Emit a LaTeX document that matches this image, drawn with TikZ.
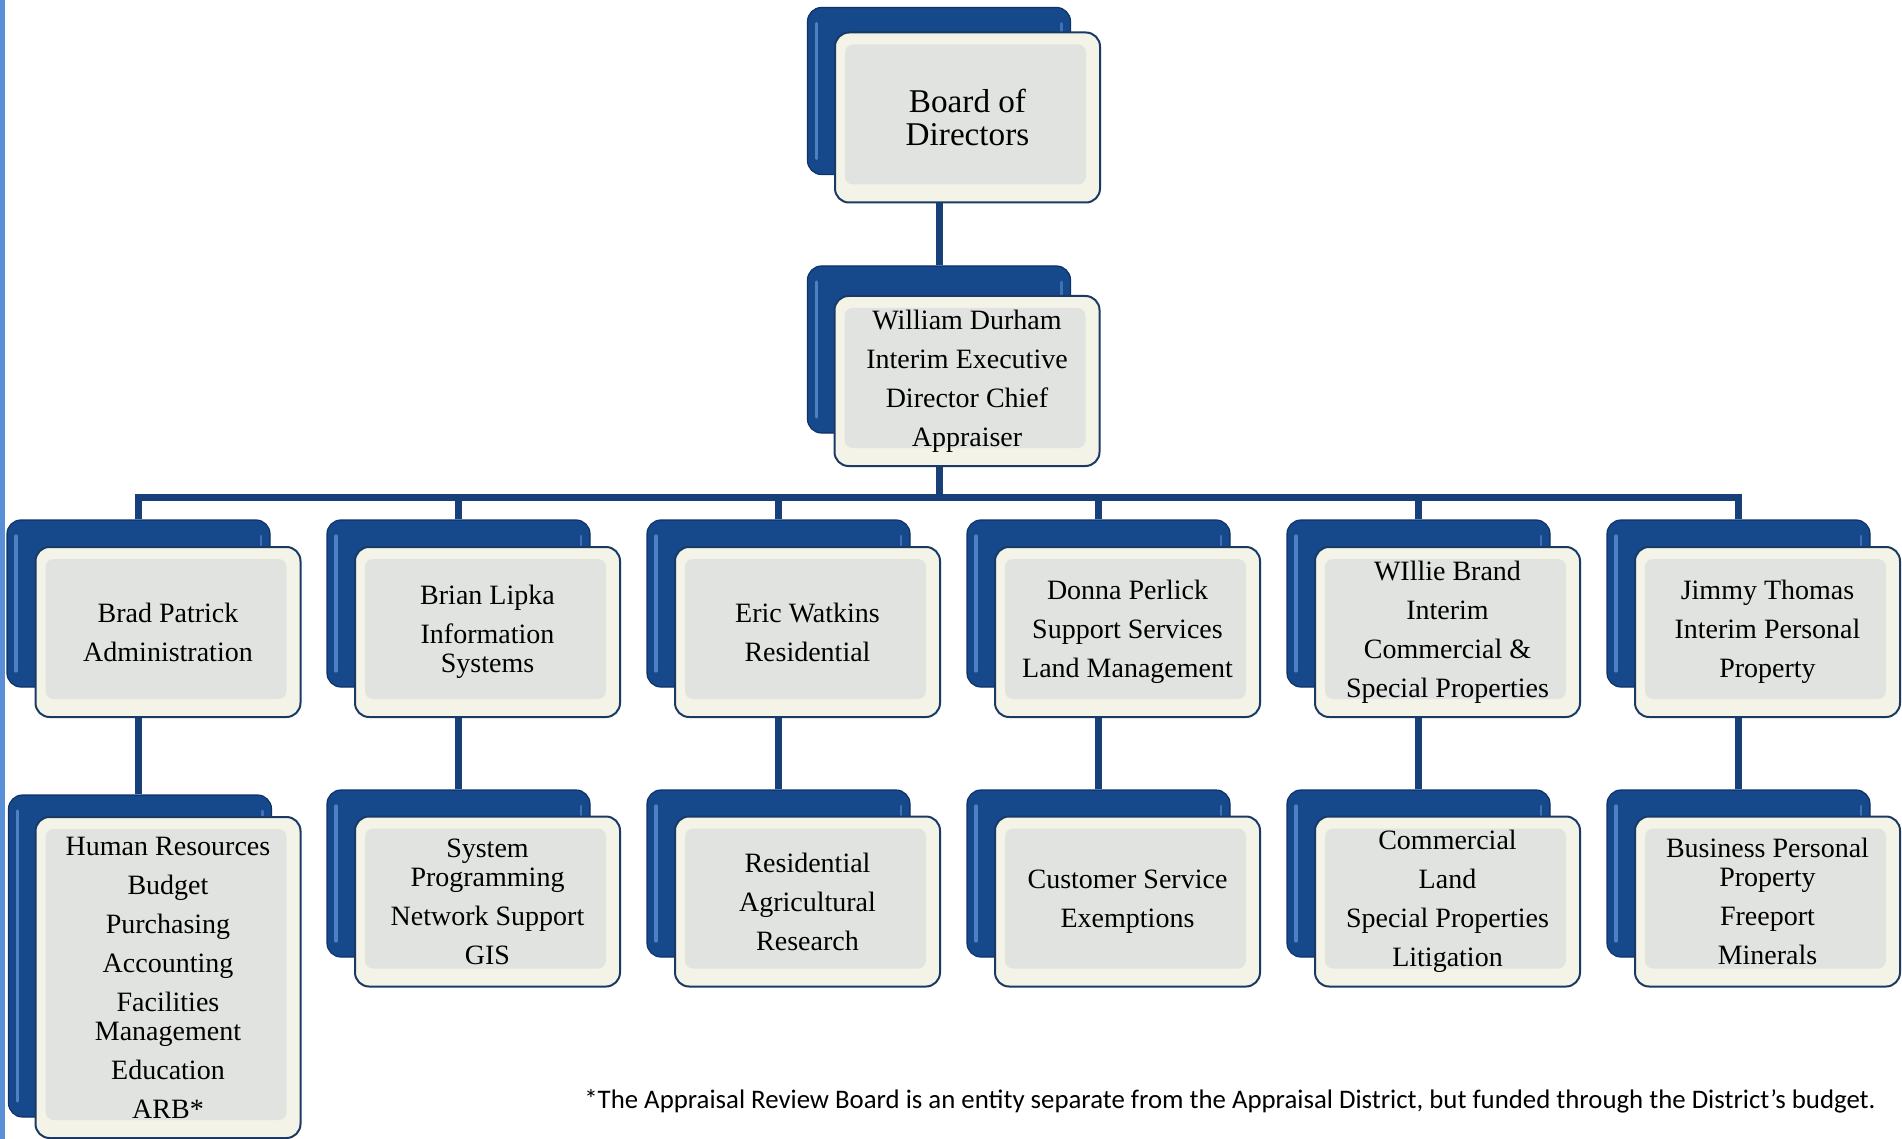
\documentclass[tikz,border=0pt]{standalone}
\usepackage{fontspec}
\setmainfont{Liberation Serif}
\newfontfamily\notefont{Carlito}
\usetikzlibrary{backgrounds}

\definecolor{boxblue}{RGB}{22,72,140}
\definecolor{boxedge}{RGB}{14,50,104}
\definecolor{boxhi}{RGB}{96,146,214}
\definecolor{boxcream}{RGB}{244,243,232}
\definecolor{boxgrey}{RGB}{225,227,224}
\definecolor{boxline}{RGB}{27,58,99}
\definecolor{linkblue}{RGB}{24,64,120}
\definecolor{edgeblue}{RGB}{88,143,214}

\tikzset{
  back/.style={rounded corners=7pt, fill=boxblue, draw=boxedge, line width=0.6pt,
    minimum width=131.5pt, minimum height=83.5pt, inner sep=0pt,
    path picture={
      \draw[boxhi!75!boxblue, line width=1.6pt, line cap=round]
        ([shift={(4.5pt,-8pt)}]path picture bounding box.north west) -- ([shift={(4.5pt,8pt)}]path picture bounding box.south west);
      \draw[boxhi!55!boxblue, line width=1.4pt, line cap=round]
        ([shift={(-4.5pt,-8pt)}]path picture bounding box.north east) -- ([shift={(-4.5pt,8pt)}]path picture bounding box.south east);
    }},
  front/.style={rounded corners=7pt, fill=boxcream, draw=boxline, line width=1pt,
    minimum width=132.5pt, minimum height=85pt, inner sep=2pt, align=center,
    font=\fontsize{14}{14.5}\selectfont,
    path picture={
      \fill[boxgrey, rounded corners=4pt]
        ([shift={(5pt,9pt)}]path picture bounding box.south west) rectangle ([shift={(-7pt,-6pt)}]path picture bounding box.north east);
    }},
  link/.style={linkblue, line width=3.5pt},
}

\begin{document}
\begin{tikzpicture}[x=0.5pt, y=-0.5pt]
    \useasboundingbox (0,0) rectangle (1902,1139);
    % blue strip on the left edge
    \fill[edgeblue] (0,0) rectangle (5,1139);

    % Board and director
    \node[back] (bod-b) at (939,91) {};
    \node[front, font=\fontsize{16.6}{16.5}\selectfont] (bod) at (967.5,117.5) {Board of\\Directors};
    \node[back] (exec-b) at (939,349.5) {};
    \node[front] (exec) at (967,381) {William Durham\\[5pt]Interim Executive\\[5pt]Director Chief\\[5pt]Appraiser};

    % Row 1
    \node[back] (adm-b) at (138.5,603.5) {};
    \node[front] (adm) at (168,632) {Brad Patrick\\[5pt]Administration};
    \node[back] (info-b) at (458.5,603.5) {};
    \node[front] (info) at (487.5,632) {Brian Lipka\\[5pt]Information\\Systems};
    \node[back] (res-b) at (778.5,603.5) {};
    \node[front] (res) at (807.5,632) {Eric Watkins\\[5pt]Residential};
    \node[back] (land-b) at (1098.5,603.5) {};
    \node[front] (land) at (1127.5,632) {Donna Perlick\\[5pt]Support Services\\[5pt]Land Management};
    \node[back] (com-b) at (1418.5,603.5) {};
    \node[front] (com) at (1447.5,632) {WIllie Brand\\[5pt]Interim\\[5pt]Commercial \&\\[5pt]Special Properties};
    \node[back] (pers-b) at (1738.5,603.5) {};
    \node[front] (pers) at (1767.5,632) {Jimmy Thomas\\[5pt]Interim Personal\\[5pt]Property};

    % Row 2
    \node[back, minimum height=161pt] (hr-b) at (140,956) {};
    \node[front, minimum height=160.5pt] (hr) at (168,977.5) {Human Resources\\[5pt]Budget\\[5pt]Purchasing\\[5pt]Accounting\\[5pt]Facilities\\Management\\[5pt]Education\\[5pt]ARB*};
    \node[back] (sys-b) at (458.5,873.5) {};
    \node[front] (sys) at (487.5,901.5) {System\\Programming\\[5pt]Network Support\\[5pt]GIS};
    \node[back] (agr-b) at (778.5,873.5) {};
    \node[front] (agr) at (807.5,901.5) {Residential\\[5pt]Agricultural\\[5pt]Research};
    \node[back] (cust-b) at (1098.5,873.5) {};
    \node[front] (cust) at (1127.5,901.5) {Customer Service\\[5pt]Exemptions};
    \node[back] (spec-b) at (1418.5,873.5) {};
    \node[front] (spec) at (1447.5,901.5) {Commercial\\[5pt]Land\\[5pt]Special Properties\\[5pt]Litigation};
    \node[back] (bpp-b) at (1738.5,873.5) {};
    \node[front] (bpp) at (1767.5,901.5) {Business Personal\\Property\\[5pt]Freeport\\[5pt]Minerals};

    % footnote
    \node[font=\notefont\fontsize{13.4}{15}\selectfont, anchor=east, inner sep=0pt] (note) at (1876,1101)
      {*The Appraisal Review Board is an entity separate from the Appraisal District, but funded through the District’s budget.};

    % connectors behind the boxes
    \coordinate (bar) at (0,497);
    \begin{pgfonlayer}{background}
      \draw[link] (bod-b.south) -- (exec-b.north);
      \draw[link] (exec-b.south) |- (bar -| adm-b.north) -- (adm-b.north);
      \draw[link] (exec-b.south) |- (bar -| info-b.north) -- (info-b.north);
      \draw[link] (exec-b.south) |- (bar -| res-b.north) -- (res-b.north);
      \draw[link] (exec-b.south) |- (bar -| land-b.north) -- (land-b.north);
      \draw[link] (exec-b.south) |- (bar -| com-b.north) -- (com-b.north);
      \draw[link] (exec-b.south) |- (bar -| pers-b.north) -- (pers-b.north);
      \draw[link] (adm-b.south) -- (adm-b.south |- hr-b.north);
      \draw[link] (info-b) -- (sys-b);
      \draw[link] (res-b) -- (agr-b);
      \draw[link] (land-b) -- (cust-b);
      \draw[link] (com-b) -- (spec-b);
      \draw[link] (pers-b) -- (bpp-b);
    \end{pgfonlayer}
\end{tikzpicture}
\end{document}
